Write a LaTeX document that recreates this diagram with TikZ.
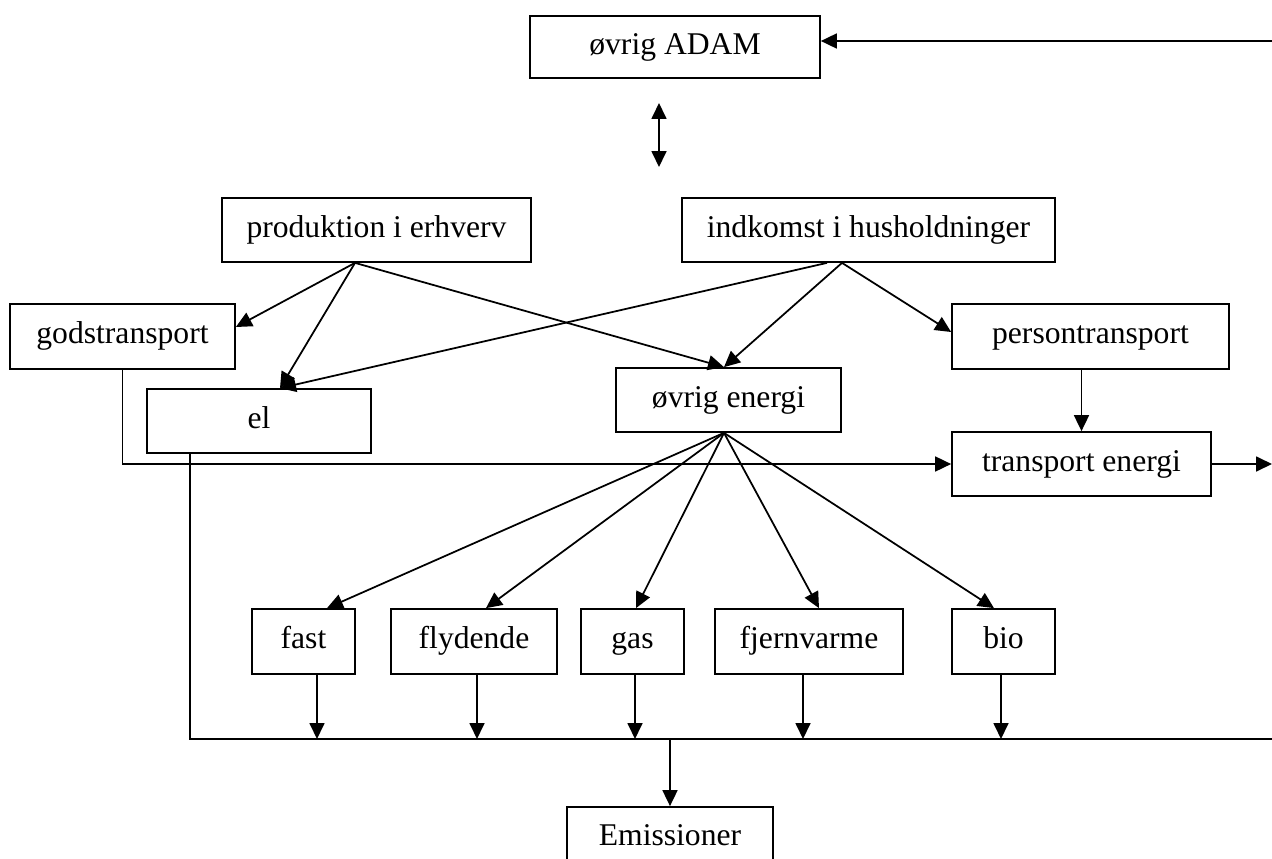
\documentclass[tikz,border=0pt]{standalone}
\usepackage{fontspec}
\setmainfont{Liberation Serif}
\usepackage{tikz}
\usetikzlibrary{positioning}
\usetikzlibrary{arrows.meta}

\begin{document}
\begin{tikzpicture}[x=0.02cm,y=-0.02cm,
  boks/.style={draw=black,line width=1pt,rectangle,inner sep=0pt,minimum height=1.28cm,text height=12.6pt,text depth=4.5pt,font=\fontsize{18}{22}\selectfont},
  pil/.style={-{Triangle[length=0.32cm,width=0.3cm]},line width=1pt}]
\useasboundingbox (0,0) rectangle (1272,859);

% boxes
\node[boks,minimum width=5.8cm,minimum height=1.24cm] (adam) at (675,47) {øvrig ADAM};
\node[boks,minimum width=6.18cm] (prod) at (376.5,230) {produktion i erhverv};
\node[boks,minimum width=7.46cm] (indk) at (868.5,230) {indkomst i husholdninger};
\node[boks,minimum width=4.5cm,minimum height=1.3cm] (gods) at (122.5,336.5) {godstransport};
\node[boks,minimum width=4.48cm] (el) at (259,421) {el};
\node[boks,minimum width=4.5cm] (ovrig) at (728.5,400) {øvrig energi};
\node[boks,minimum width=5.54cm,minimum height=1.3cm] (person) at (1090.5,336.5) {persontransport};
\node[boks,minimum width=5.18cm] (transp) at (1081.5,464) {transport energi};
\node[boks,minimum width=2.06cm,minimum height=1.3cm] (fast) at (303.5,641.5) {fast};
\node[boks,minimum width=3.32cm,minimum height=1.3cm] (flyd) at (474,641.5) {flydende};
\node[boks,minimum width=2.06cm,minimum height=1.3cm] (gas) at (632.5,641.5) {gas};
\node[boks,minimum width=3.76cm,minimum height=1.3cm] (fjern) at (809,641.5) {fjernvarme};
\node[boks,minimum width=2.06cm,minimum height=1.3cm] (bio) at (1003.5,641.5) {bio};
\node[boks,minimum width=4.12cm,minimum height=1.24cm] (emis) at (670,838) {Emissioner};

% free ends
\coordinate (r0) at (1272,41);
\coordinate (r1) at (1272,464);
\coordinate (d0) at (659,103);
\coordinate (d1) at (659,167);
\coordinate (busr) at (1272,739);

% start and end points on the boxes
\coordinate (p0) at ([xshift=-0.43cm]prod.south);
\coordinate (i0) at ([xshift=-0.83cm]indk.south);
\coordinate (i1) at ([xshift=-0.53cm]indk.south);
\coordinate (o0) at ([xshift=-0.09cm]ovrig.north);
\coordinate (o1) at ([xshift=-0.09cm]ovrig.south);
\coordinate (e0) at ([xshift=0.42cm]el.north);
\coordinate (e1) at ([xshift=-1.38cm]el.south);
\coordinate (g0) at ([yshift=0.19cm]gods.east);
\coordinate (q0) at ([yshift=0.09cm]person.west);

\draw[pil] (r0) -- (r0 -| adam.east);
\draw[{Triangle[length=0.32cm,width=0.3cm]}-{Triangle[length=0.32cm,width=0.3cm]},line width=1pt] (d0) -- (d1);

\draw[pil] (p0) -- (g0);
\draw[pil] (p0) -- (e0);
\draw[pil] (p0) -- (o0);
\draw[pil] (i0) -- (e0);
\draw[pil] (i1) -- (o0);
\draw[pil] (i1) -- (q0);
\draw[pil] (person.south -| transp.north) -- (transp.north);
\draw[pil] (gods.south) |- (transp.west);
\draw[pil] (transp.east) -- (r1);

% el and the energy types into the line to Emissioner
\draw[line width=1pt] (e1) |- (busr);
\foreach \n/\a/\b in {fast/0.47/0.27, flyd/0.24/0.06, gas/0.07/0.05, fjern/0.2/-0.12, bio/-0.19/-0.05} {
  \draw[pil] (o1) -- ([xshift=\a cm]\n.north);
  \coordinate (\n-ned) at ([xshift=\b cm]\n.south);
  \draw[pil] (\n-ned) -- (\n-ned |- busr);
}
\draw[pil] (emis.north |- busr) -- (emis.north);

\end{tikzpicture}
\end{document}
